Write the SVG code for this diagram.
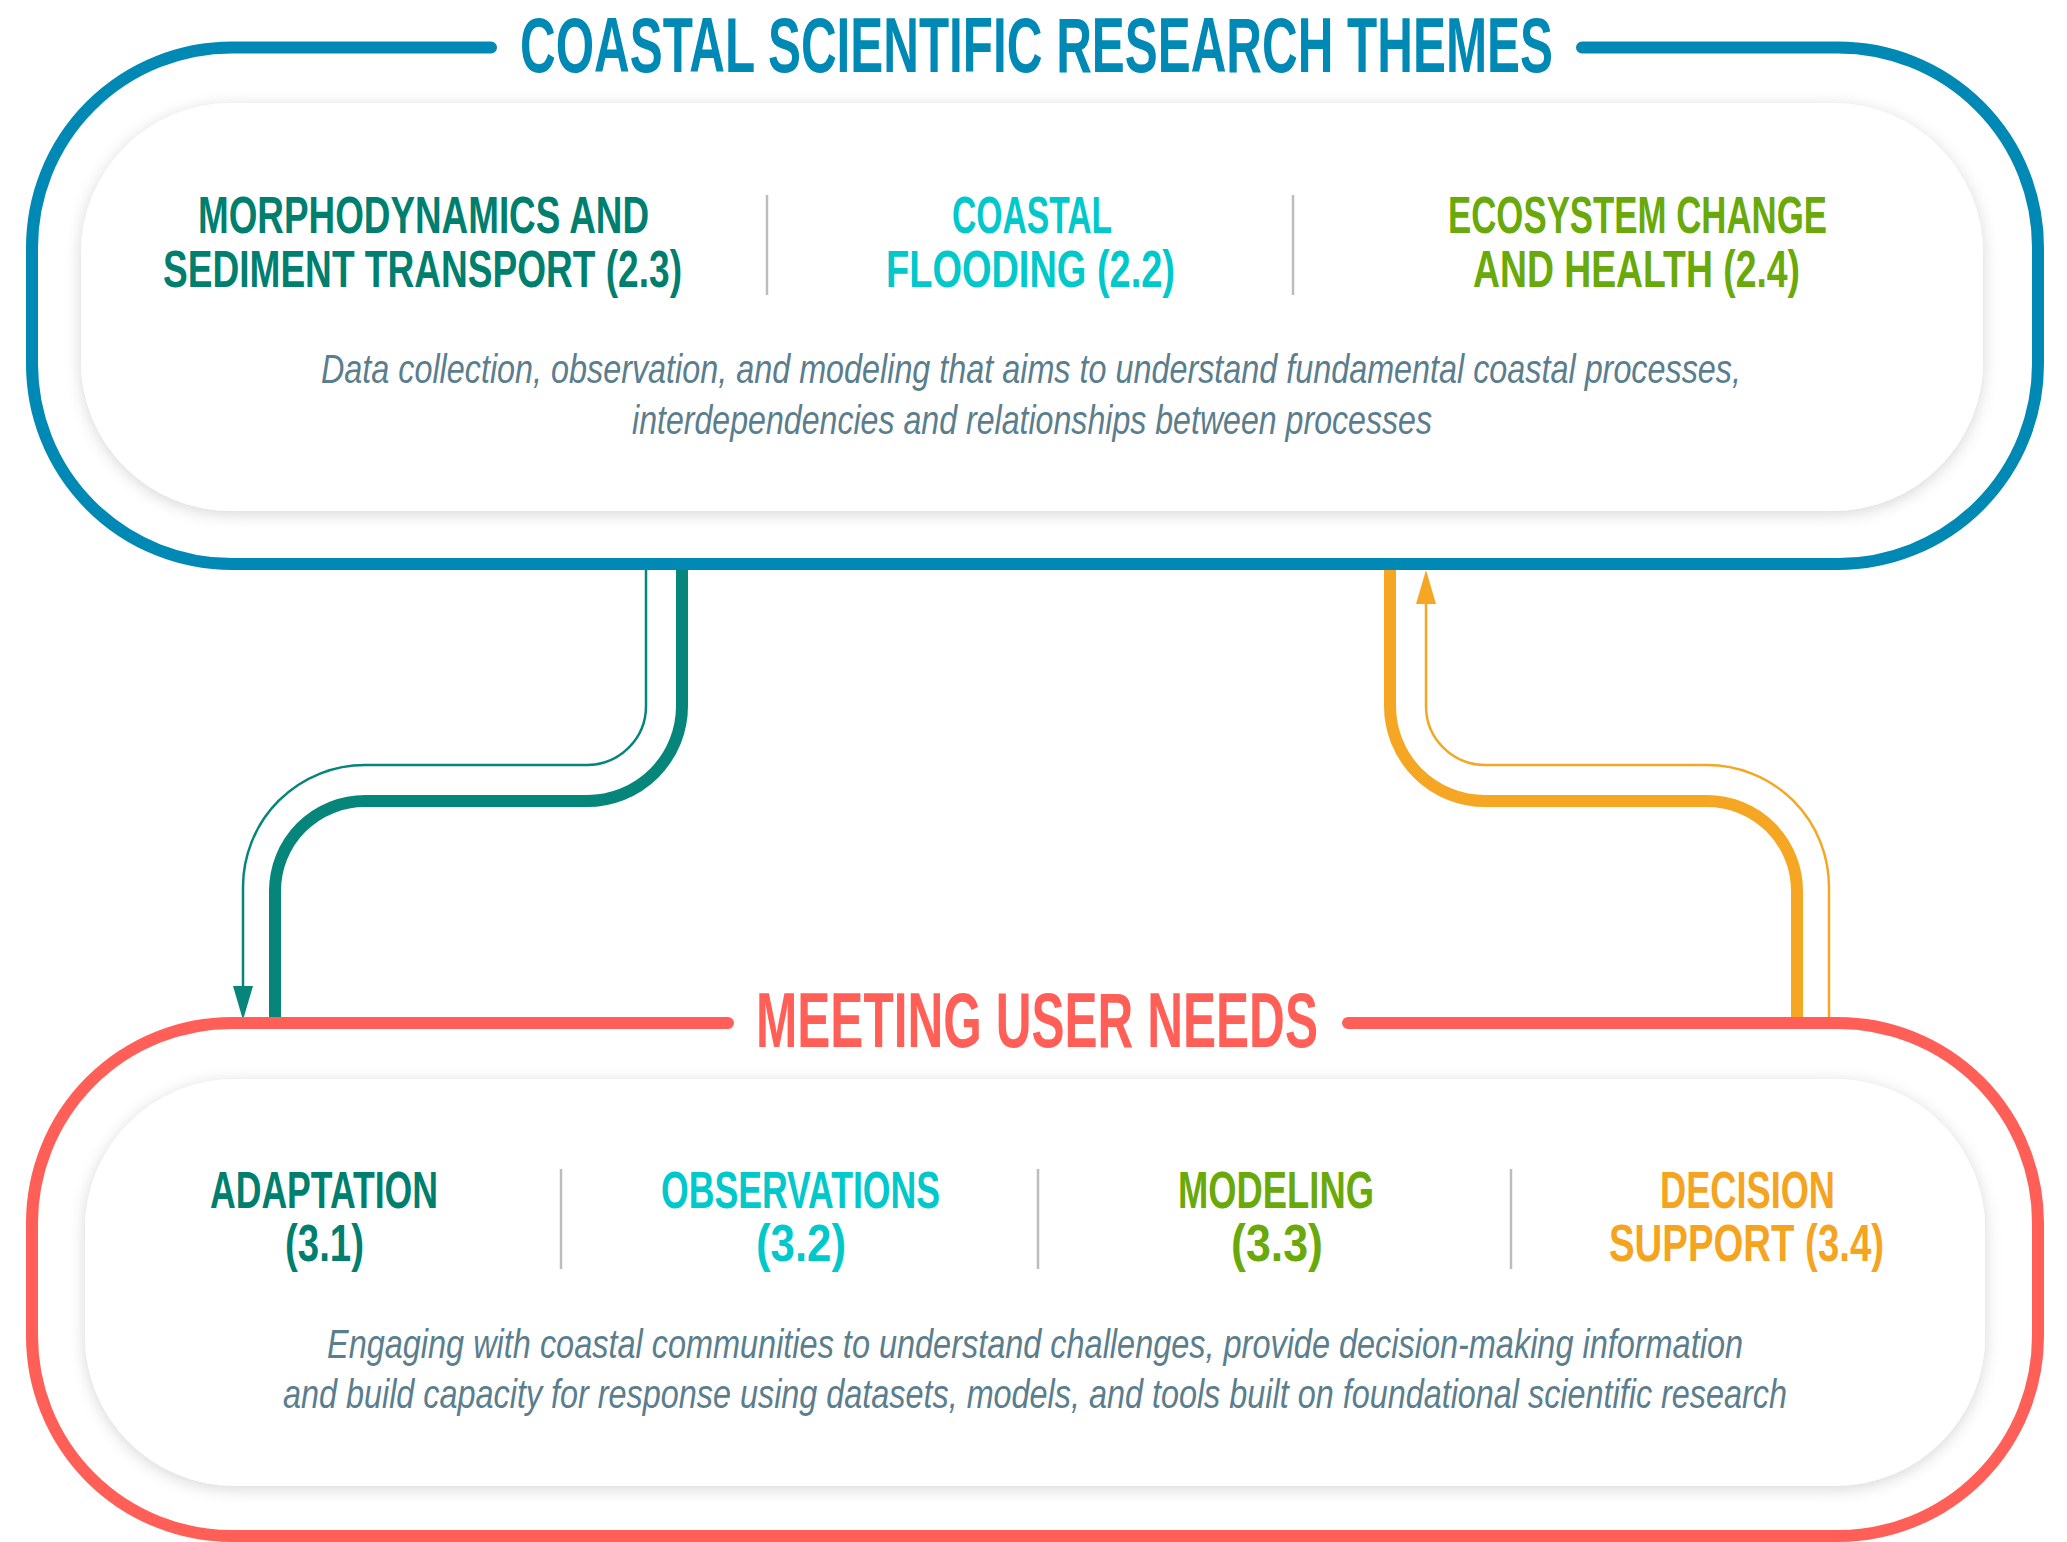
<svg xmlns="http://www.w3.org/2000/svg" width="2067" height="1542" viewBox="0 0 2067 1542">
<style>
.frame{fill:none;stroke-width:12;stroke-linecap:round}
.inner{fill:#ffffff;filter:url(#sh)}
.title{font-family:"Liberation Sans",Arial,sans-serif;font-weight:700;font-size:77px}
.hd{font-family:"Liberation Sans",Arial,sans-serif;font-weight:700;font-size:51px}
.desc{font-family:"Liberation Sans",Arial,sans-serif;font-style:italic;font-size:40px;fill:#5a7e8d}
.sep{stroke:#bdbdbd;stroke-width:2.5}
.thick{fill:none;stroke-width:12}
.thin{fill:none;stroke-width:2.5}
.teal{fill:#007f6f}
.cyan{fill:#00c8cb}
.green{fill:#6aa90a}
.orange{fill:#f4a41f}
</style>
<defs>
<filter id="sh" x="-5%" y="-20%" width="110%" height="140%">
<feDropShadow dx="0" dy="3" stdDeviation="8" flood-color="#000" flood-opacity="0.16"/>
</filter>
<marker id="arT" markerUnits="userSpaceOnUse" viewBox="0 0 34 20" markerWidth="34" markerHeight="20" refX="2" refY="10" orient="auto">
<path d="M0,0 L34,10 L0,20 Z" fill="#06857a"/>
</marker>
<marker id="arO" markerUnits="userSpaceOnUse" viewBox="0 0 34 20" markerWidth="34" markerHeight="20" refX="2" refY="10" orient="auto">
<path d="M0,0 L34,10 L0,20 Z" fill="#f5a623"/>
</marker>
</defs>
<rect width="2067" height="1542" fill="#ffffff"/>

<g id="connectors">
<path class="thick" stroke="#06857a" d="M682 566 V706 A95 95 0 0 1 587 801 H365 A90 90 0 0 0 275 891 V1019"/>
<path class="thin" stroke="#06857a" marker-end="url(#arT)" d="M646 566 V706 A59 59 0 0 1 587 765 H365 A122 122 0 0 0 243 887 V988"/>
<path class="thick" stroke="#f5a623" d="M1390 566 V706 A95 95 0 0 0 1485 801 H1707 A90 90 0 0 1 1797 891 V1019"/>
<path class="thin" stroke="#f5a623" marker-end="url(#arO)" d="M1829 1019 V887 A122 122 0 0 0 1707 765 H1485 A59 59 0 0 1 1426 706 V602"/>
</g>

<g id="research-themes">
<path class="frame" stroke="#0089b4" d="M491 47.5 H232 A200 200 0 0 0 32 247.5 V364 A200 200 0 0 0 232 564 H1838 A200 200 0 0 0 2038 364 V247.5 A200 200 0 0 0 1838 47.5 H1582"/>
<rect class="inner" x="81" y="103" width="1902" height="408" rx="150" ry="150"/>
<text class="title" fill="#0089b4" x="520" y="72" textLength="1033" lengthAdjust="spacingAndGlyphs">COASTAL SCIENTIFIC RESEARCH THEMES</text>
<g id="theme-morphodynamics">
<text class="hd teal" x="198" y="233" textLength="451" lengthAdjust="spacingAndGlyphs">MORPHODYNAMICS AND</text>
<text class="hd teal" x="163" y="287" textLength="519" lengthAdjust="spacingAndGlyphs">SEDIMENT TRANSPORT (2.3)</text>
</g>
<line class="sep" x1="767" y1="195" x2="767" y2="295"/>
<g id="theme-flooding">
<text class="hd cyan" x="952" y="233" textLength="160" lengthAdjust="spacingAndGlyphs">COASTAL</text>
<text class="hd cyan" x="886" y="287" textLength="289" lengthAdjust="spacingAndGlyphs">FLOODING (2.2)</text>
</g>
<line class="sep" x1="1293" y1="195" x2="1293" y2="295"/>
<g id="theme-ecosystem">
<text class="hd green" x="1448" y="233" textLength="379" lengthAdjust="spacingAndGlyphs">ECOSYSTEM CHANGE</text>
<text class="hd green" x="1473" y="287" textLength="327" lengthAdjust="spacingAndGlyphs">AND HEALTH (2.4)</text>
</g>
<text class="desc" x="321" y="383" textLength="1420" lengthAdjust="spacingAndGlyphs">Data collection, observation, and modeling that aims to understand fundamental coastal processes,</text>
<text class="desc" x="632" y="434" textLength="800" lengthAdjust="spacingAndGlyphs">interdependencies and relationships between processes</text>
</g>

<g id="user-needs">
<path class="frame" stroke="#ff5f57" d="M728 1023 H232 A200 200 0 0 0 32 1223 V1336 A200 200 0 0 0 232 1536 H1838 A200 200 0 0 0 2038 1336 V1223 A200 200 0 0 0 1838 1023 H1348"/>
<rect class="inner" x="85" y="1079" width="1900" height="407" rx="150" ry="150"/>
<text class="title" fill="#ff5f57" x="756" y="1047" textLength="562" lengthAdjust="spacingAndGlyphs">MEETING USER NEEDS</text>
<g id="need-adaptation">
<text class="hd teal" x="210" y="1208" textLength="228" lengthAdjust="spacingAndGlyphs">ADAPTATION</text>
<text class="hd teal" x="285" y="1261" textLength="79" lengthAdjust="spacingAndGlyphs">(3.1)</text>
</g>
<line class="sep" x1="561" y1="1169" x2="561" y2="1269"/>
<g id="need-observations">
<text class="hd cyan" x="661" y="1208" textLength="279" lengthAdjust="spacingAndGlyphs">OBSERVATIONS</text>
<text class="hd cyan" x="756" y="1261" textLength="90" lengthAdjust="spacingAndGlyphs">(3.2)</text>
</g>
<line class="sep" x1="1038" y1="1169" x2="1038" y2="1269"/>
<g id="need-modeling">
<text class="hd green" x="1178" y="1208" textLength="196" lengthAdjust="spacingAndGlyphs">MODELING</text>
<text class="hd green" x="1231" y="1261" textLength="92" lengthAdjust="spacingAndGlyphs">(3.3)</text>
</g>
<line class="sep" x1="1511" y1="1169" x2="1511" y2="1269"/>
<g id="need-decision-support">
<text class="hd orange" x="1660" y="1208" textLength="175" lengthAdjust="spacingAndGlyphs">DECISION</text>
<text class="hd orange" x="1609" y="1261" textLength="275" lengthAdjust="spacingAndGlyphs">SUPPORT (3.4)</text>
</g>
<text class="desc" x="327" y="1358" textLength="1416" lengthAdjust="spacingAndGlyphs">Engaging with coastal communities to understand challenges, provide decision-making information</text>
<text class="desc" x="283" y="1408" textLength="1504" lengthAdjust="spacingAndGlyphs">and build capacity for response using datasets, models, and tools built on foundational scientific research</text>
</g>
</svg>
